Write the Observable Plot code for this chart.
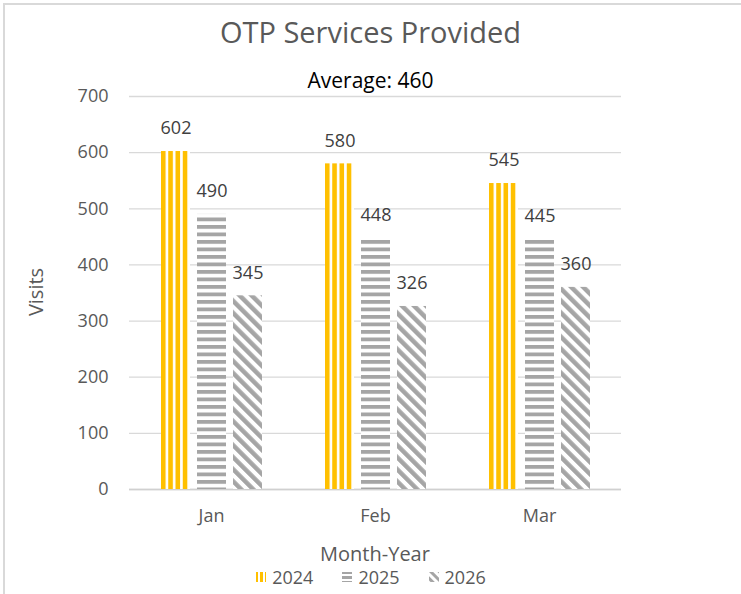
<!DOCTYPE html>
<html><head><meta charset="utf-8">
<script src="https://cdn.jsdelivr.net/npm/d3@7"></script>
<script src="https://cdn.jsdelivr.net/npm/@observablehq/plot@0.6"></script>
<style>
body{margin:0;background:#fff;font-family:"Open Sans",sans-serif;}
#wrap{position:relative;width:741px;height:594px;overflow:hidden;background:#fff;}
.bt{position:absolute;left:3px;top:3px;width:738px;height:2px;background:#d9d9d9;}
.bl{position:absolute;left:3px;top:3px;width:2px;height:591px;background:#d9d9d9;}
.title{position:absolute;left:0;top:8px;width:741px;text-align:center;font-size:29px;line-height:48px;color:#595959;}
.sub{position:absolute;left:0;top:67px;width:741px;text-align:center;font-size:21px;line-height:26px;color:#000;}
.ylab{position:absolute;left:35px;top:292px;transform:translate(-50%,-50%) rotate(-90deg);font-size:20px;color:#595959;white-space:nowrap;}
.xlab{position:absolute;left:0;top:543px;width:750px;text-align:center;font-size:20px;line-height:22px;color:#595959;}
#chart{position:absolute;left:0;top:60px;}
#legend{position:absolute;left:0;top:567px;width:741px;display:flex;justify-content:center;align-items:center;font-size:18px;color:#595959;line-height:20px;}
#legend .item{display:flex;align-items:center;margin:0 14px;}
#legend svg{margin-right:5px;}
</style></head><body>
<div id="wrap">
  <div class="bt"></div><div class="bl"></div>
  <div class="title" id="title"></div>
  <div class="sub" id="sub"></div>
  <div class="ylab" id="ylab"></div>
  <div id="chart"></div>
  <div class="xlab" id="xlab"></div>
  <div id="legend"></div>
</div>
<script>
const titleText = "OTP Services Provided";
const average = 460;
const months = ["Jan", "Feb", "Mar"];
const years = ["2024", "2025", "2026"];
const v2024 = [602, 580, 545];
const v2025 = [490, 448, 445];
const v2026 = [345, 326, 360];
const yTicks = [0, 100, 200, 300, 400, 500, 600, 700];
const yLabel = "Visits";
const xLabel = "Month-Year";

const series = {"2024": v2024, "2025": v2025, "2026": v2026};
const data = [];
months.forEach((m, i) => years.forEach(y => data.push({month: m, year: y, value: series[y][i]})));

document.getElementById("title").textContent = titleText;
document.getElementById("sub").textContent = "Average: " + average;
document.getElementById("ylab").textContent = yLabel;
document.getElementById("xlab").textContent = xLabel;

const fills = ["url(#p2024)", "url(#p2025)", "url(#p2026)"];

const chart = Plot.plot({
  width: 741, height: 509,
  marginLeft: 128, marginRight: 119, marginTop: 36, marginBottom: 80,
  style: {fontFamily: "Open Sans, sans-serif", background: "transparent", overflow: "visible"},
  fx: {domain: months, padding: 0, label: null},
  x: {domain: years, paddingInner: 0.2, paddingOuter: 0.825, axis: null},
  y: {domain: [0, 700], axis: null},
  color: {domain: years, range: fills},
  marks: [
    Plot.gridY(yTicks, {stroke: "#d9d9d9", strokeOpacity: 1, strokeWidth: 1.3}),
    Plot.ruleY([0], {stroke: "#d0d0d0", strokeWidth: 1.5}),
    Plot.axisY(yTicks, {tickSize: 0, tickPadding: 21, fontSize: 18, fill: "#595959", label: null}),
    Plot.axisFx({anchor: "bottom", tickSize: 0, tickPadding: 20, fontSize: 18, fill: "#595959", label: null}),
    Plot.barY(data, {fx: "month", x: "year", y: "value", fill: "year"}),
    Plot.text(data, {fx: "month", x: "year", y: "value", text: d => String(d.value), dy: -23, fontSize: 18, fill: "#404040"})
  ]
});
const defs = `
<defs>
 <pattern id="p2024" patternUnits="objectBoundingBox" x="0" y="0" width="0.25" height="1">
   <rect width="100" height="1000" fill="#fff"/><rect width="4.6" height="1000" fill="#FFC000"/>
 </pattern>
 <pattern id="p2025" patternUnits="userSpaceOnUse" x="0" y="0" width="10" height="7.5">
   <rect width="10" height="7.5" fill="#fff"/><rect width="10" height="3.8" fill="#A5A5A5"/>
 </pattern>
 <pattern id="p2026" patternUnits="userSpaceOnUse" width="8.5" height="8.5" patternTransform="rotate(-45)">
   <rect width="8.5" height="8.5" fill="#fff"/><rect width="4.5" height="8.5" fill="#A5A5A5"/>
 </pattern>
 <pattern id="l2024" patternUnits="userSpaceOnUse" width="5" height="5">
   <rect width="5" height="5" fill="#fff"/><rect width="3" height="5" fill="#FFC000"/>
 </pattern>
 <pattern id="l2025" patternUnits="userSpaceOnUse" width="5" height="5">
   <rect width="5" height="5" fill="#fff"/><rect width="5" height="3" fill="#A5A5A5"/>
 </pattern>
 <pattern id="l2026" patternUnits="userSpaceOnUse" width="6" height="6" patternTransform="rotate(-45)">
   <rect width="6" height="6" fill="#fff"/><rect width="3" height="6" fill="#A5A5A5"/>
 </pattern>
</defs>`;
chart.insertAdjacentHTML("afterbegin", defs);
document.getElementById("chart").appendChild(chart);

const legend = document.getElementById("legend");
years.forEach((y, i) => {
  const item = document.createElement("div");
  item.className = "item";
  item.innerHTML = `<svg width="12" height="12"><rect x="1" y="1" width="10" height="10" fill="url(#l${y})"/></svg><span>${y}</span>`;
  legend.appendChild(item);
});
</script>
</body></html>
